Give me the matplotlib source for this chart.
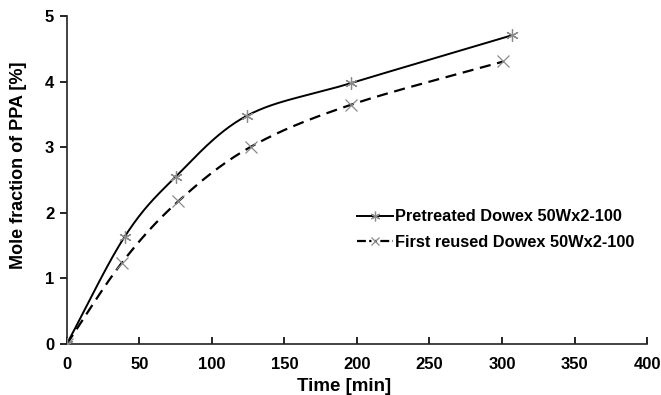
import numpy as np
import matplotlib
matplotlib.use("Agg")
import matplotlib.pyplot as plt

plt.rcParams['font.family'] = ['Liberation Sans', 'DejaVu Sans']

time_pre = [0, 40, 75, 124, 196, 307]
ppa_pre = [0, 1.64, 2.55, 3.48, 3.98, 4.71]
time_reuse = [0, 38, 77, 127, 196, 301]
ppa_reuse = [0, 1.24, 2.18, 3.01, 3.65, 4.31]

labels = ["Pretreated Dowex 50Wx2-100", "First reused Dowex 50Wx2-100"]
x_ticks = [0, 50, 100, 150, 200, 250, 300, 350, 400]
y_ticks = [0, 1, 2, 3, 4, 5]


def smooth(x, y, n=30):
    x = np.asarray(x, float)
    y = np.asarray(y, float)
    P = np.column_stack([x, y])
    P = np.vstack([P[0] - (P[1] - P[0]), P, P[-1] + (P[-1] - P[-2])])
    out = []
    t = np.linspace(0, 1, n)[:, None]
    for i in range(1, len(P) - 2):
        p0, p1, p2, p3 = P[i - 1], P[i], P[i + 1], P[i + 2]
        seg = 0.5 * ((2 * p1) + (-p0 + p2) * t + (2 * p0 - 5 * p1 + 4 * p2 - p3) * t ** 2
                     + (-p0 + 3 * p1 - 3 * p2 + p3) * t ** 3)
        out.append(seg)
    S = np.vstack(out)
    return S[:, 0], S[:, 1]


fig = plt.figure(figsize=(6.61, 3.95), dpi=100)
ax = fig.add_axes([0.101, 0.129, 0.878, 0.83])

sx, sy = smooth(time_pre, ppa_pre)
ax.plot(sx, sy, color='black', lw=1.4, zorder=2)
rx, ry = smooth(time_reuse, ppa_reuse)
ax.plot(rx, ry, color='black', lw=1.6, ls=(0, (5, 3)), zorder=2)
ax.plot(time_pre, ppa_pre, ls='none', marker=(6, 2, 0), ms=9, mew=0.9,
        color='#8a8a8a', zorder=3)
ax.plot(time_reuse, ppa_reuse, ls='none', marker='x', ms=8, mew=0.9,
        color='#8a8a8a', zorder=3)

# legend proxies
h1, = ax.plot([], [], color='black', lw=1.4, marker=(6, 2, 0), ms=7, mew=0.9,
              mec='#8a8a8a')
h2, = ax.plot([], [], color='black', lw=1.6, ls=(0, (4, 1.5, 1, 1.5, 1, 1.5)), marker='x',
              ms=6, mew=0.9, mec='#8a8a8a')
ax.legend([h1, h2], labels, loc='upper left', bbox_to_anchor=(0.50, 0.411),
          frameon=False, handlelength=2.2, handletextpad=0.15,
          labelspacing=0.65, borderaxespad=0, borderpad=0,
          prop={'weight': 'bold', 'size': 11.8})

ax.set_xlim(0, 400)
ax.set_ylim(0, 5)
ax.set_xticks(x_ticks)
ax.set_yticks(y_ticks)
ax.spines['top'].set_visible(False)
ax.spines['right'].set_visible(False)
for s in ['left', 'bottom']:
    ax.spines[s].set_linewidth(1.2)
    ax.spines[s].set_color('#222222')
ax.tick_params(axis='x', direction='in', length=5, width=1.2, labelsize=12, pad=9)
ax.tick_params(axis='y', direction='out', length=5, width=1.2, labelsize=12, pad=4)
for lab in ax.get_xticklabels() + ax.get_yticklabels():
    lab.set_fontweight('bold')
ax.set_xlabel('Time [min]', fontsize=13.5, fontweight='bold', labelpad=3)
ax.xaxis.set_label_coords(0.477, -0.105)
ax.set_ylabel('Mole fraction of PPA [%]', fontsize=13, fontweight='bold')
ax.yaxis.set_label_coords(-0.069, 0.545)

fig.savefig('out.png', dpi=100)
